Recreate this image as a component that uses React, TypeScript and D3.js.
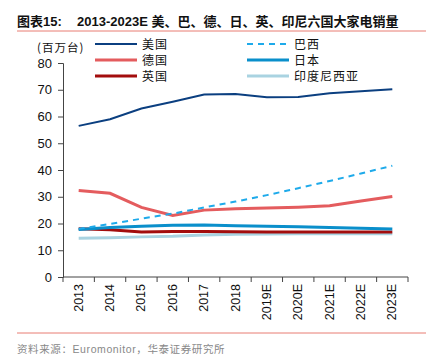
import { useEffect, useRef } from 'react'
import * as d3 from 'd3'

const years = ['2013', '2014', '2015', '2016', '2017', '2018', '2019E', '2020E', '2021E', '2022E', '2023E']
const usa = [56.5, 59, 63, 65.5, 68.2, 68.4, 67.2, 67.3, 68.7, 69.4, 70.2]
const brazil = [18, 19.8, 21.8, 23.7, 26, 28.2, 30.6, 33.2, 35.9, 38.7, 41.6]
const germany = [32.3, 31.3, 26, 23, 25, 25.5, 25.8, 26.1, 26.6, 28.4, 30.1]
const japan = [17.8, 18.5, 19, 19.3, 19.4, 19.2, 19, 18.8, 18.5, 18.2, 17.9]
const uk = [18, 17.7, 16.8, 17, 17, 16.9, 16.8, 16.8, 16.8, 16.8, 16.8]
const india = [14.5, 14.7, 15, 15.2, 15.7, 16, 16.1, 16.2, 16.2, 16.2, 16.2]
const yTicks = [0, 10, 20, 30, 40, 50, 60, 70, 80]

const series = [
  { name: '美国', values: usa, color: '#0b3f80', width: 2, dash: null, col: 0, row: 0 },
  { name: '巴西', values: brazil, color: '#1eaaea', width: 2, dash: '6,5', col: 1, row: 0 },
  { name: '德国', values: germany, color: '#e45c5e', width: 3, dash: null, col: 0, row: 1 },
  { name: '日本', values: japan, color: '#0a8fcb', width: 3, dash: null, col: 1, row: 1 },
  { name: '英国', values: uk, color: '#a30d0d', width: 3, dash: null, col: 0, row: 2 },
  { name: '印度尼西亚', values: india, color: '#a9d3e1', width: 3, dash: null, col: 1, row: 2 },
]

const W = 440
const H = 363
const left = 63
const right = 408
const top = 63
const bottom = 277

function App() {
  const ref = useRef<SVGSVGElement>(null)

  useEffect(() => {
    const svg = d3.select(ref.current)
    svg.selectAll('*').remove()
    const font = 'Arial, "Liberation Sans", "Noto Sans CJK SC", sans-serif'
    const cjk = '"Noto Sans CJK SC", sans-serif'

    const x = d3.scalePoint().domain(years).range([left, right]).padding(0.5)
    const y = d3.scaleLinear().domain([0, 80]).range([bottom, top])
    const step = x.step()

    // title
    const title = svg.append('text').attr('x', 17).attr('y', 26)
      .attr('font-family', font).attr('font-weight', 'bold').attr('font-size', 13).attr('fill', '#111')
    title.append('tspan').text('图表15:')
    title.append('tspan').attr('x', 77)
      .text('2013-2023E 美、巴、德、日、英、印尼六国大家电销量')
    svg.append('line').attr('x1', 17).attr('x2', 426).attr('y1', 31).attr('y2', 31)
      .attr('stroke', '#e87c72').attr('stroke-width', 1)
    svg.append('line').attr('x1', 17).attr('x2', 426).attr('y1', 333).attr('y2', 333)
      .attr('stroke', '#e87c72').attr('stroke-width', 1)
    svg.append('text').attr('x', 17).attr('y', 353)
      .attr('font-family', font).attr('font-size', 10.5).attr('fill', '#888').attr('letter-spacing', 0.6)
      .text('资料来源：Euromonitor，华泰证券研究所')

    // y axis
    const yAxis = svg.append('g').attr('transform', `translate(${left},0)`)
      .call(d3.axisLeft(y).tickValues(yTicks).tickSize(5).tickPadding(6))
    yAxis.select('.domain').attr('stroke', '#444')
    yAxis.selectAll('.tick line').attr('stroke', '#444')
    yAxis.selectAll('text').attr('font-family', font).attr('font-size', 13).attr('fill', '#111')

    // x axis
    const g = svg.append('g')
    g.append('line').attr('x1', left).attr('x2', right).attr('y1', bottom).attr('y2', bottom).attr('stroke', '#444')
    const bounds = d3.range(years.length + 1).map((i) => left + i * step)
    g.selectAll('line.xt').data(bounds).join('line').attr('class', 'xt')
      .attr('x1', (d) => d).attr('x2', (d) => d).attr('y1', bottom).attr('y2', bottom + 5).attr('stroke', '#444')
    g.selectAll('text.xl').data(years).join('text').attr('class', 'xl')
      .attr('transform', (d) => `translate(${(x(d) as number) + 4},${bottom + 7}) rotate(-90)`)
      .attr('text-anchor', 'end').attr('font-family', font).attr('font-size', 12.5).attr('fill', '#111')
      .text((d) => d)

    // lines
    const line = d3.line<number>().x((_, i) => x(years[i]) as number).y((d) => y(d))
    series.slice().reverse().forEach((s) => {
      svg.append('path').datum(s.values).attr('d', line).attr('fill', 'none')
        .attr('stroke', s.color).attr('stroke-width', s.width)
        .attr('stroke-dasharray', s.dash ?? null)
    })

    // legend
    svg.append('text').attr('x', 37).attr('y', 52).attr('font-family', cjk).attr('font-size', 11.5)
      .attr('fill', '#111').attr('letter-spacing', 1).text('(百万台)')
    const lg = svg.append('g')
    series.forEach((s) => {
      const lx = s.col === 0 ? 95 : 247
      const ly = 44 + s.row * 16
      lg.append('line').attr('x1', lx).attr('x2', lx + 42).attr('y1', ly).attr('y2', ly)
        .attr('stroke', s.color).attr('stroke-width', s.width).attr('stroke-dasharray', s.dash ?? null)
      lg.append('text').attr('x', lx + 47).attr('y', ly + 4.5).attr('font-family', cjk)
        .attr('font-size', 12).attr('fill', '#111').attr('letter-spacing', 1).text(s.name)
    })
  }, [])

  return (
    <div style={{ position: 'absolute', left: 0, top: 0, background: '#fff' }}>
      <svg ref={ref} width={W} height={H} style={{ display: 'block' }} />
    </div>
  )
}

export default App
